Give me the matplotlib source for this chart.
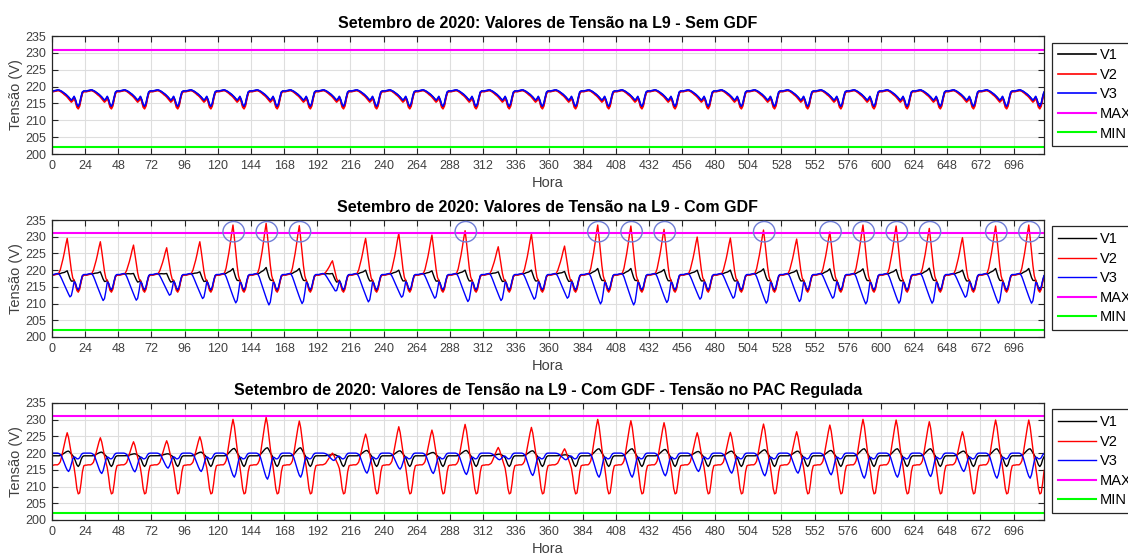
import numpy as np
import matplotlib
matplotlib.use("Agg")
import matplotlib.pyplot as plt
from matplotlib.patches import Ellipse

plt.rcParams['font.family'] = ['Liberation Sans', 'DejaVu Sans']

# ---- Data ----
n_days = 30
hours = np.arange(n_days * 24)

v_max = 231.0
v_min = 202.0

# Panel 1 (Sem GDF): hourly daily profile of each phase (h0..h23)
p1_v1 = [218.6, 218.6, 218.7, 218.8, 218.9, 218.9, 218.7, 218.5, 218.2, 217.9, 217.6, 217.2,
         216.8, 216.3, 215.8, 216.2, 216.9, 215.9, 214.4, 213.9, 214.7, 216.6, 218.2, 218.6]
p1_v2 = [218.5, 218.5, 218.6, 218.7, 218.8, 218.8, 218.6, 218.3, 218.0, 217.6, 217.3, 216.9,
         216.4, 215.9, 215.4, 215.8, 216.6, 215.5, 213.9, 213.4, 214.2, 216.3, 218.0, 218.5]
p1_v3 = [218.7, 218.7, 218.8, 218.9, 219.0, 219.0, 218.8, 218.6, 218.3, 218.0, 217.7, 217.3,
         216.9, 216.4, 216.0, 216.4, 217.1, 216.1, 214.7, 214.2, 215.0, 216.9, 218.4, 218.7]

# Panel 2 (Com GDF): daily extreme of each phase (day 0..29)
p2_v1_peak = [219.8, 219.5, 219.0, 219.0, 219.5, 220.5, 220.8, 220.5, 219.0, 220.0,
              220.0, 219.8, 220.0, 219.5, 220.0, 219.6, 220.5, 220.5, 220.2, 220.0,
              220.0, 220.4, 220.0, 220.4, 220.4, 220.2, 220.6, 220.0, 220.5, 220.5]
p2_v2_peak = [229.5, 228.5, 227.5, 226.7, 228.5, 233.5, 234.0, 233.3, 222.8, 229.5,
              231.0, 230.5, 231.8, 227.0, 230.8, 227.2, 233.5, 233.2, 232.2, 229.9,
              229.6, 232.0, 229.3, 231.4, 233.5, 233.2, 232.5, 229.7, 233.2, 233.5]
p2_v3_low = [212.0, 210.9, 211.0, 212.5, 211.5, 210.2, 209.6, 210.0, 213.8, 210.5,
             211.9, 211.6, 210.6, 210.9, 211.3, 211.6, 209.9, 209.6, 210.3, 211.3,
             211.6, 210.1, 210.6, 211.6, 209.9, 210.1, 210.1, 211.9, 210.1, 210.1]
# daytime shape of the GDF effect (0..1) per phase
p2_v1_shape = [0, 0, 0, 0, 0, 0, 0.1, 0.25, 0.4, 0.55, 0.75, 1.0,
               0.7, 0.45, 0.35, 0.2, 0.05, 0, 0, 0, 0, 0, 0, 0]
p2_v2_shape = [0, 0, 0, 0, 0, 0.03, 0.12, 0.27, 0.43, 0.62, 0.82, 1.0,
               0.8, 0.58, 0.36, 0.15, 0.02, 0, 0, 0, 0, 0, 0, 0]
p2_v3_shape = [0, 0, 0, 0, 0, 0.03, 0.12, 0.27, 0.42, 0.56, 0.7, 0.82,
               0.93, 1.0, 0.82, 0.48, 0.12, 0, 0, 0, 0, 0, 0, 0]
circled_days = [5, 6, 7, 12, 16, 17, 18, 21, 23, 24, 25, 26, 28, 29]

# Panel 3 (PAC regulada): base daily profile per phase
p3_v1 = [219.2, 219.2, 219.2, 219.2, 219.2, 219.2, 219.2, 219.2, 219.2, 219.2, 219.2, 219.2,
         219.2, 219.2, 219.1, 219.0, 218.6, 217.6, 216.5, 216.0, 216.6, 218.0, 218.9, 219.2]
p3_v2 = [216.4, 216.4, 216.5, 216.5, 216.5, 216.6, 216.6, 216.6, 216.5, 216.4, 216.3, 216.2,
         216.1, 216.0, 216.0, 215.9, 215.2, 212.8, 209.4, 207.8, 208.1, 210.9, 214.4, 216.2]
p3_v3 = [220.0, 220.0, 220.0, 220.0, 220.0, 220.0, 220.0, 220.0, 220.0, 220.0, 220.0, 220.0,
         220.0, 220.0, 219.9, 219.7, 219.2, 218.7, 218.3, 218.3, 218.6, 219.4, 219.9, 220.0]
p3_v1_peak = [220.6, 220.3, 219.8, 219.8, 220.3, 221.4, 221.6, 221.6, 219.6, 220.8,
              220.7, 220.2, 220.8, 219.7, 220.7, 219.5, 221.3, 221.3, 221.1, 220.5,
              220.6, 221.0, 220.6, 220.8, 221.3, 221.3, 221.3, 220.6, 221.3, 221.3]
p3_v2_peak = [226.1, 224.6, 223.4, 223.7, 224.9, 230.1, 230.7, 229.6, 220.0, 225.7,
              227.9, 226.9, 228.6, 221.7, 227.7, 221.3, 230.1, 229.7, 229.1, 226.1,
              226.2, 228.7, 226.4, 228.4, 230.1, 229.9, 229.4, 226.4, 229.9, 229.9]
p3_v3_low = [214.5, 213.9, 214.4, 215.5, 214.5, 212.8, 212.2, 212.8, 217.8, 214.0,
             215.2, 213.9, 213.6, 218.0, 213.3, 218.0, 212.8, 212.8, 213.2, 214.5,
             214.0, 213.2, 214.0, 213.5, 212.5, 212.8, 213.0, 214.5, 212.5, 212.5]
p3_v1_shape = [0, 0, 0, 0, 0, 0, 0.05, 0.2, 0.4, 0.6, 0.8, 0.95,
               1.0, 0.75, 0.45, 0.2, 0.05, 0, 0, 0, 0, 0, 0, 0]
p3_v2_shape = [0, 0, 0, 0, 0, 0.02, 0.08, 0.24, 0.44, 0.64, 0.84, 1.0,
               0.86, 0.62, 0.38, 0.17, 0.05, 0, 0, 0, 0, 0, 0, 0]
p3_v3_shape = [0, 0, 0, 0, 0, 0.02, 0.07, 0.18, 0.37, 0.57, 0.76, 0.92,
               1.0, 0.86, 0.57, 0.27, 0.06, 0, 0, 0, 0, 0, 0, 0]

titles = ["Setembro de 2020: Valores de Tensão na L9 - Sem GDF",
          "Setembro de 2020: Valores de Tensão na L9 - Com GDF",
          "Setembro de 2020: Valores de Tensão na L9 - Com GDF - Tensão no PAC Regulada"]
labels = ["V1", "V2", "V3", "MAX", "MIN"]


def build(base, shape=None, extreme=None, peak_hour=11):
    # Daily base profile plus the daily GDF bump, scaled to the extreme read per day
    base = np.array(base)
    out = []
    for d in range(n_days):
        day = base.copy()
        if shape is not None:
            day = day + (extreme[d] - base[peak_hour]) * np.array(shape)
        out.append(day)
    return np.concatenate(out)


series = [
    [build(p1_v1), build(p1_v2), build(p1_v3)],
    [build(p1_v1, p2_v1_shape, p2_v1_peak, 11),
     build(p1_v2, p2_v2_shape, p2_v2_peak, 11),
     build(p1_v3, p2_v3_shape, p2_v3_low, 13)],
    [build(p3_v1, p3_v1_shape, p3_v1_peak, 12),
     build(p3_v2, p3_v2_shape, p3_v2_peak, 11),
     build(p3_v3, p3_v3_shape, p3_v3_low, 12)],
]

# ---- Figure ----
fig = plt.figure(figsize=(11.28, 5.55), dpi=100)
positions = [(0.0461, 0.7225, 0.8794, 0.2126),
             (0.0461, 0.3928, 0.8794, 0.2108),
             (0.0461, 0.0631, 0.8794, 0.2108)]
axis_col = '#262626'

for i, pos in enumerate(positions):
    ax = fig.add_axes(pos)
    lw = 1.2 if i == 0 else 1.0
    v1, v2, v3 = series[i]
    ax.plot(hours, v1, color='k', lw=lw, label="V1")
    ax.plot(hours, v2, color='#ff0000', lw=lw, label="V2")
    ax.plot(hours, v3, color='#0000ff', lw=lw, label="V3")
    ax.plot(hours, np.full(len(hours), v_max), color='#ff00ff', lw=1.5, label="MAX")
    ax.plot(hours, np.full(len(hours), v_min), color='#00ff00', lw=1.5, label="MIN")

    if i == 1:
        for d in circled_days:
            ax.add_patch(Ellipse((d * 24 + 11.5, 231.5), width=15.5, height=6.1,
                                 fill=False, ec='#6f7dd6', lw=1.0, zorder=5))

    ax.set_xlim(0, 718)
    ax.set_ylim(200, 235)
    ax.set_xticks(np.arange(0, 697, 24))
    ax.set_yticks(np.arange(200, 236, 5))
    ax.grid(True, color='#dedede', lw=0.8)
    ax.set_axisbelow(True)
    ax.tick_params(direction='in', top=True, right=True, length=4, width=0.8,
                   labelsize=9, colors=axis_col, labelcolor='#404040', pad=4)
    for s in ax.spines.values():
        s.set_color(axis_col)
        s.set_linewidth(0.9)
    ax.set_title(titles[i], fontsize=11.5, fontweight='bold', pad=6)
    ax.set_xlabel("Hora", fontsize=10.5, color='#404040', labelpad=3)
    ax.set_ylabel("Tensão (V)", fontsize=10.5, color='#404040', labelpad=2)
    leg = ax.legend(loc='upper left', bbox_to_anchor=(1.008, 0.945), fontsize=10.5,
                    frameon=True, fancybox=False, edgecolor=axis_col, framealpha=1,
                    handlelength=2.6, handletextpad=0.3, labelspacing=0.38,
                    borderpad=0.4, borderaxespad=0)
    leg.get_frame().set_linewidth(0.9)

fig.savefig("out.png", dpi=100)
